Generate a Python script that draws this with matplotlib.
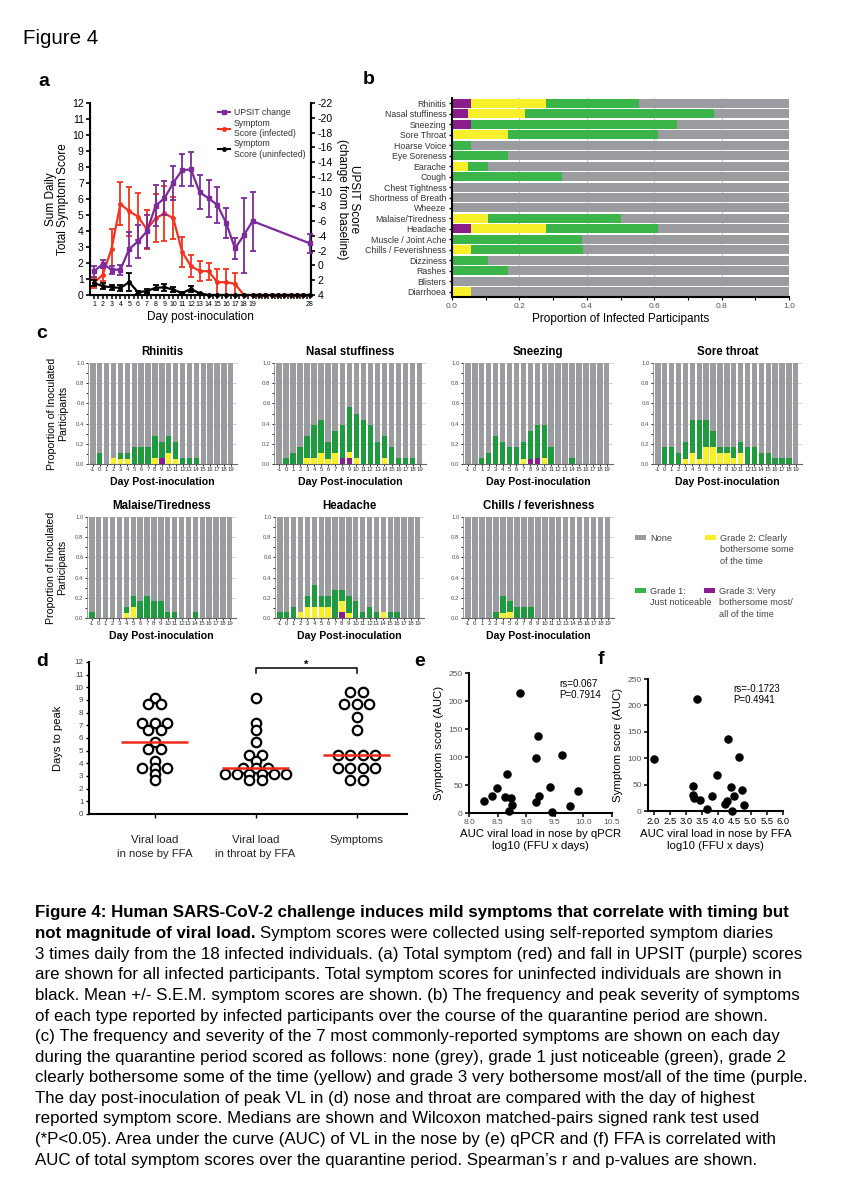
import numpy as np
import matplotlib
matplotlib.use('Agg')
import matplotlib.pyplot as plt
from matplotlib.lines import Line2D
from matplotlib.patches import Rectangle

plt.rcParams['font.family'] = ['Liberation Sans', 'DejaVu Sans']
plt.rcParams['axes.unicode_minus'] = False

W, H = 849, 1200
fig = plt.figure(figsize=(W / 100, H / 100), dpi=100)


def add_ax(x0, y0, x1, y1):
    return fig.add_axes([x0 / W, 1 - y1 / H, (x1 - x0) / W, (y1 - y0) / H])


PURPLE = '#8a1c8c'
YELLOW = '#f6ef2a'
GREEN_B = '#3bb54a'
GREEN_C = '#1f9a3e'
GRAY = '#9b9c9f'
RED = '#f5331f'
UPS = '#7d2b9a'

# ---------------- data: panel a ----------------
days_sym = list(range(1, 29))
red_mean = [0.75, 1.27, 2.9, 5.7, 5.23, 4.9, 4.1, 4.8, 5.1, 4.8, 2.7, 1.8, 1.5, 1.48,
            0.8, 0.8, 0.7, 0, 0, 0, 0, 0, 0, 0, 0, 0, 0, 0]
red_sem = [0.3, 0.4, 1.25, 1.35, 1.55, 1.45, 1.2, 1.5, 1.7, 1.3, 0.95, 0.7, 0.6, 0.55,
           0.8, 0.8, 0.7, 0, 0, 0, 0, 0, 0, 0, 0, 0, 0, 0]
blk_mean = [0.75, 0.55, 0.48, 0.45, 0.8, 0.17, 0.25, 0.45, 0.48, 0.33, 0.12, 0.38, 0.1,
            0, 0, 0, 0, 0, 0, 0, 0, 0, 0, 0, 0, 0, 0, 0]
blk_sem = [0.2, 0.2, 0.15, 0.2, 0.55, 0.1, 0.1, 0.15, 0.2, 0.15, 0.05, 0.2, 0.05,
           0, 0, 0, 0, 0, 0, 0, 0, 0, 0, 0, 0, 0, 0, 0]
days_upsit = [1, 2, 3, 4, 5, 6, 7, 8, 9, 10, 11, 12, 13, 14, 15, 16, 17, 18, 19, 28]
upsit_mean = [0.8, -0.2, 0.57, 0.57, -2.23, -3.27, -4.6, -8.1, -9.1, -11.2, -12.9, -13.0,
              -9.9, -9.1, -8.2, -5.75, -2.3, -4.1, -6.0, -3.0]
upsit_sem = [0.7, 0.6, 0.55, 0.7, 2.3, 2.2, 2.3, 2.8, 2.3, 2.3, 2.2, 2.3, 2.3, 2.5, 2.4,
             2.0, 1.4, 5.1, 4.0, 1.3]
day_labels_a = [1, 2, 3, 4, 5, 6, 7, 8, 9, 10, 11, 12, 13, 14, 15, 16, 17, 18, 19, 28]

# ---------------- data: panel b ----------------
symptoms_b = ['Rhinitis', 'Nasal stuffiness', 'Sneezing', 'Sore Throat', 'Hoarse Voice',
              'Eye Soreness', 'Earache', 'Cough', 'Chest Tightness', 'Shortness of Breath',
              'Wheeze', 'Malaise/Tiredness', 'Headache', 'Muscle / Joint Ache',
              'Chills / Feverishness', 'Dizziness', 'Rashes', 'Blisters', 'Diarrhoea']
b_grade3 = [0.056, 0.047, 0.056, 0, 0, 0, 0, 0, 0, 0, 0, 0, 0.056, 0, 0, 0, 0, 0, 0]
b_grade2 = [0.222, 0.171, 0, 0.167, 0, 0, 0.047, 0, 0, 0, 0, 0.106, 0.222, 0, 0.056, 0, 0, 0, 0.056]
b_grade1 = [0.278, 0.560, 0.611, 0.444, 0.056, 0.167, 0.059, 0.327, 0, 0, 0, 0.394, 0.333,
            0.387, 0.333, 0.106, 0.167, 0, 0]

# ---------------- data: panel c ----------------
days_c = list(range(-1, 20))
c_titles = ['Rhinitis', 'Nasal stuffiness', 'Sneezing', 'Sore throat',
            'Malaise/Tiredness', 'Headache', 'Chills / feverishness']
# grade 3 (purple), grade 2 (yellow), grade 1 (green) proportions, days -1..19
rhin_g3 = [0, 0, 0, 0, 0, 0, 0, 0, 0, 0, 0.06, 0, 0, 0, 0, 0, 0, 0, 0, 0, 0]
rhin_g2 = [0, 0, 0, 0.06, 0.05, 0.05, 0, 0, 0, 0.06, 0, 0.11, 0.05, 0, 0, 0, 0, 0, 0, 0, 0]
rhin_g1 = [0, 0.11, 0, 0, 0.06, 0.06, 0.17, 0.17, 0.17, 0.22, 0.16, 0.17, 0.17, 0.06, 0.06, 0.06, 0, 0, 0, 0, 0]

nas_g3 = [0, 0, 0, 0, 0, 0, 0, 0, 0, 0.06, 0.06, 0, 0, 0, 0, 0, 0, 0, 0, 0, 0]
nas_g2 = [0, 0, 0, 0, 0.06, 0.06, 0.11, 0.05, 0.11, 0, 0.06, 0.06, 0, 0, 0, 0.06, 0, 0, 0, 0, 0]
nas_g1 = [0, 0.06, 0.11, 0.17, 0.22, 0.33, 0.33, 0.17, 0.22, 0.33, 0.44, 0.44, 0.44, 0.39, 0.22, 0.22, 0.17, 0.06, 0.06, 0.06, 0]

snz_g3 = [0, 0, 0, 0, 0, 0, 0, 0, 0, 0.05, 0.06, 0, 0, 0, 0, 0, 0, 0, 0, 0, 0]
snz_g2 = [0, 0, 0, 0, 0, 0, 0, 0, 0.05, 0, 0, 0.06, 0, 0, 0, 0, 0, 0, 0, 0, 0]
snz_g1 = [0, 0, 0.06, 0.11, 0.28, 0.22, 0.17, 0.17, 0.17, 0.28, 0.33, 0.33, 0.17, 0, 0, 0.06, 0, 0, 0, 0, 0]

sor_g3 = [0] * 21
sor_g2 = [0, 0, 0, 0, 0.05, 0.11, 0.05, 0.17, 0.17, 0.11, 0.11, 0.06, 0.11, 0, 0, 0, 0, 0, 0, 0, 0]
sor_g1 = [0, 0.17, 0.17, 0.11, 0.17, 0.33, 0.39, 0.27, 0.16, 0.06, 0.06, 0.11, 0.11, 0.17, 0.17, 0.11, 0.11, 0.06, 0.06, 0.06, 0]

mal_g3 = [0] * 21
mal_g2 = [0, 0, 0, 0, 0, 0.05, 0.11, 0, 0, 0, 0, 0, 0, 0, 0, 0, 0, 0, 0, 0, 0]
mal_g1 = [0.06, 0, 0, 0, 0, 0.06, 0.11, 0.17, 0.22, 0.17, 0.17, 0.06, 0.06, 0, 0, 0.06, 0, 0, 0, 0, 0]

hea_g3 = [0, 0, 0, 0, 0, 0, 0, 0, 0, 0.06, 0, 0, 0, 0, 0, 0, 0, 0, 0, 0, 0]
hea_g2 = [0, 0, 0, 0.06, 0.11, 0.11, 0.11, 0.11, 0, 0.11, 0.05, 0, 0, 0, 0, 0.06, 0, 0, 0, 0, 0]
hea_g1 = [0.06, 0.06, 0.11, 0, 0.11, 0.22, 0.11, 0.11, 0.28, 0.11, 0.17, 0.17, 0.06, 0.11, 0.06, 0, 0.06, 0.06, 0, 0, 0]

chi_g3 = [0] * 21
chi_g2 = [0, 0, 0, 0, 0, 0.05, 0.06, 0, 0, 0, 0, 0, 0, 0, 0, 0, 0, 0, 0, 0, 0]
chi_g1 = [0, 0, 0, 0, 0.06, 0.17, 0.11, 0.11, 0.11, 0.11, 0, 0, 0, 0, 0, 0, 0, 0, 0, 0, 0]

# ---------------- data: panel d ----------------
d_groups = ['Viral load\nin nose by FFA', 'Viral load\nin throat by FFA', 'Symptoms']
d_nose = [9.15, 8.65, 8.65, 7.15, 7.15, 7.15, 6.65, 6.65, 5.65, 5.15, 5.15, 4.15,
          3.65, 3.65, 3.65, 3.15, 2.65]
d_throat = [9.15, 7.15, 6.65, 5.65, 4.65, 4.65, 4.15, 3.65, 3.65, 3.65, 3.15, 3.15,
            3.15, 3.15, 3.15, 3.15, 2.65, 2.65]
d_symptoms = [9.65, 9.65, 8.65, 8.65, 8.65, 7.65, 6.65, 4.65, 4.65, 4.65, 4.65,
              3.65, 3.65, 3.65, 3.65, 2.65, 2.65]

# ---------------- data: panels e, f ----------------
e_x = [8.26, 8.40, 8.49, 8.66, 8.63, 8.73, 8.70, 8.76, 8.89, 9.20, 9.17, 9.22, 9.17,
       9.42, 9.45, 9.63, 9.76, 9.91]
e_y = [21, 31, 45, 69, 29, 27, 4, 14, 214, 138, 99, 30, 19, 46, 1, 103, 12, 40]
f_x = [2.0, 3.21, 3.21, 3.26, 3.45, 3.33, 3.65, 3.82, 3.95, 4.21, 4.26, 4.31, 4.40,
       4.41, 4.50, 4.63, 4.72, 4.81]
f_y = [99, 47, 30, 25, 20, 213, 3, 29, 68, 13, 18, 137, 45, 0, 29, 102, 39, 11]

# =============== Figure title ===============
fig.text(23 / W, 1 - 38 / H, 'Figure 4', fontsize=14.8, va='center', ha='left')

panel_labels = [('a', 38, 82), ('b', 363, 80), ('c', 36, 333), ('d', 36, 661),
                ('e', 414, 662), ('f', 598, 660)]
for lab, px, py in panel_labels:
    fig.text(px / W, 1 - py / H, lab, fontsize=14, fontweight='bold', va='center', ha='left')

# =============== Panel a ===============
ax = add_ax(90, 103, 311, 295)


def fwd(x):
    x = np.asarray(x, dtype=float)
    return np.where(x <= 19, x, 19 + (x - 19) * 0.72)


def inv(y):
    y = np.asarray(y, dtype=float)
    return np.where(y <= 19, y, 19 + (y - 19) / 0.72)


ax.set_xscale('function', functions=(fwd, inv))
ax.set_xlim(0.55, 28.2)
ax.set_ylim(0, 12)
ax.errorbar(days_sym, red_mean, yerr=red_sem, color=RED, lw=1.6, marker='o', ms=2.5,
            capsize=2, elinewidth=1.3, capthick=1.3, clip_on=False, zorder=3)
ax.errorbar(days_sym, blk_mean, yerr=blk_sem, color='black', lw=1.6, marker='o', ms=2.5,
            capsize=2, elinewidth=1.3, capthick=1.3, clip_on=False, zorder=4)
ax.set_yticks(range(0, 13))
ax.set_xticks(day_labels_a)
ax.set_xticklabels([str(d) for d in day_labels_a], fontsize=5)
ax.set_xticks(np.arange(1, 28.01, 0.5), minor=True)
ax.tick_params(axis='x', which='both', length=3, width=1.1, pad=1.5)
ax.tick_params(axis='y', labelsize=7.5, length=3, width=1.2, pad=1.5)
for s in ['left', 'bottom', 'right']:
    ax.spines[s].set_linewidth(1.5)
ax.spines['top'].set_visible(False)
ax.set_ylabel('Sum Daily\nTotal Symptom Score', fontsize=8.5, labelpad=2, linespacing=1.0)
ax.set_xlabel('Day post-inoculation', fontsize=8.5, labelpad=2)

ax2 = ax.twinx()
ax2.set_ylim(4, -22)
ax2.errorbar(days_upsit, upsit_mean, yerr=upsit_sem, color=UPS, lw=1.6, marker='s', ms=2.2,
             capsize=2, elinewidth=1.3, capthick=1.3, clip_on=False, zorder=3)
ax2.set_yticks(range(4, -23, -2))
ax2.tick_params(axis='y', labelsize=7.5, length=3, width=1.2, pad=1.5)
ax2.spines['top'].set_visible(False)
ax2.spines['right'].set_linewidth(1.5)
ax2.set_ylabel('UPSIT Score\n(change from baseline)', fontsize=8.5, rotation=270,
               labelpad=20, linespacing=1.0)
handles = [Line2D([], [], color=UPS, marker='s', ms=2.5, lw=1.5),
           Line2D([], [], color=RED, marker='o', ms=2.5, lw=1.5),
           Line2D([], [], color='black', marker='o', ms=2.5, lw=1.5)]
ax2.legend(handles, ['UPSIT change', 'Symptom\nScore (infected)', 'Symptom\nScore (uninfected)'],
           loc='upper right', bbox_to_anchor=(1.0, 1.0), fontsize=6.3, frameon=False,
           handlelength=1.4, labelspacing=0.15, handletextpad=0.5, borderaxespad=0.2,
           labelcolor='#333333')

# =============== Panel b ===============
axb = add_ax(452, 98, 789, 297)
yb = np.arange(len(symptoms_b))
left = np.zeros(len(symptoms_b))
for vals, col in [(b_grade3, PURPLE), (b_grade2, YELLOW), (b_grade1, GREEN_B)]:
    vals = np.array(vals)
    axb.barh(yb, vals, left=left, color=col, height=0.86, edgecolor='none', zorder=2)
    left = left + vals
axb.barh(yb, 1 - left, left=left, color=GRAY, height=0.86, edgecolor='none', zorder=2)
axb.set_ylim(len(symptoms_b) - 0.5, -0.5)
axb.set_xlim(0, 1.0)
axb.set_yticks(yb)
axb.set_yticklabels(symptoms_b, fontsize=6.3, color='#333333')
axb.set_xticks(np.arange(0, 1.01, 0.2))
axb.set_xticklabels(['0.0', '0.2', '0.4', '0.6', '0.8', '1.0'], fontsize=6, color='#555555')
axb.set_xticks(np.arange(0.1, 1.0, 0.2), minor=True)
axb.grid(axis='x', which='major', color='#c8c8c8', lw=0.8, zorder=0)
axb.tick_params(axis='y', length=2.5, width=1.0, pad=1.5)
axb.tick_params(axis='x', which='both', length=2.5, width=0.8, pad=2)
axb.spines['top'].set_visible(False)
axb.spines['right'].set_visible(False)
axb.spines['left'].set_linewidth(1.5)
axb.spines['bottom'].set_linewidth(1.5)
axb.set_xlabel('Proportion of Infected Participants', fontsize=8.5, labelpad=2)

# =============== Panel c ===============
c_data = [(rhin_g3, rhin_g2, rhin_g1), (nas_g3, nas_g2, nas_g1), (snz_g3, snz_g2, snz_g1),
          (sor_g3, sor_g2, sor_g1), (mal_g3, mal_g2, mal_g1), (hea_g3, hea_g2, hea_g1),
          (chi_g3, chi_g2, chi_g1)]
c_boxes = [(88, 363, 237, 464), (274, 363, 426, 464), (463, 363, 613, 464), (653, 363, 802, 464),
           (87, 517, 236, 618), (275, 517, 424, 618), (463, 517, 614, 618)]
for i, (title, (g3, g2, g1), box) in enumerate(zip(c_titles, c_data, c_boxes)):
    axc = add_ax(*box)
    bottom = np.zeros(len(days_c))
    for vals, col in [(g3, PURPLE), (g2, YELLOW), (g1, GREEN_C)]:
        vals = np.array(vals)
        axc.bar(days_c, vals, bottom=bottom, width=0.78, color=col, edgecolor='none', zorder=2)
        bottom = bottom + vals
    axc.bar(days_c, 1 - bottom, bottom=bottom, width=0.78, color=GRAY, edgecolor='none', zorder=2)
    axc.set_xlim(-1.7, 19.9)
    axc.set_ylim(0, 1.0)
    axc.set_xticks(days_c)
    axc.set_xticklabels([str(d) for d in days_c], fontsize=4.3, color='#333333')
    axc.set_yticks(np.arange(0, 1.01, 0.2))
    axc.set_yticklabels(['0.0', '0.2', '0.4', '0.6', '0.8', '1.0'], fontsize=4.3, color='#555555')
    axc.set_yticks(np.arange(0.1, 1.0, 0.2), minor=True)
    axc.grid(axis='y', which='major', color='#cfcfcf', lw=0.6, zorder=0)
    axc.tick_params(axis='both', which='both', length=1.5, width=0.6, pad=1)
    axc.spines['top'].set_visible(False)
    axc.spines['right'].set_visible(False)
    axc.spines['left'].set_color('#888888')
    axc.spines['left'].set_linewidth(0.6)
    axc.spines['bottom'].set_color('#666666')
    axc.spines['bottom'].set_linewidth(0.8)
    axc.set_title(title, fontsize=8.3, fontweight='bold', pad=6)
    axc.set_xlabel('Day Post-inoculation', fontsize=7.6, fontweight='bold', labelpad=3)
    if i in (0, 4):
        axc.set_ylabel('Proportion of Inoculated\nParticipants', fontsize=7.6, labelpad=6,
                       linespacing=1.1)

# legend for panel c
leg_items = [(GRAY, 'None', 635, 535), (YELLOW, 'Grade 2: Clearly\nbothersome some\nof the time', 705, 535),
             (GREEN_B, 'Grade 1:\nJust noticeable', 635, 588), (PURPLE, 'Grade 3: Very\nbothersome most/\nall of the time', 704, 588)]
for col, txt, px, py in leg_items:
    fig.patches.append(Rectangle((px / W, 1 - (py + 5) / H), 11 / W, 5 / H, transform=fig.transFigure,
                                 facecolor=col, edgecolor='none'))
    fig.text((px + 15) / W, 1 - (py - 1) / H, txt, fontsize=6.6, color='#444444', va='top',
             ha='left', linespacing=1.35)

# =============== Panel d ===============
axd = add_ax(89, 662, 407, 814)
for i, vals in enumerate([d_nose, d_throat, d_symptoms]):
    vals = np.array(vals)
    xs = np.zeros(len(vals))
    for v in np.unique(vals):
        idx = np.where(vals == v)[0]
        n = len(idx)
        xs[idx] = i + (np.arange(n) - (n - 1) / 2) * 0.122
    axd.scatter(xs, vals, s=46, facecolor='white', edgecolor='black', linewidth=1.6,
                zorder=3, clip_on=False)
    med = np.median(vals)
    axd.hlines(med, i - 0.33, i + 0.33, color='#ee2a1b', lw=1.8, zorder=4)
axd.set_xlim(-0.65, 2.5)
axd.set_ylim(0, 12)
axd.set_yticks(range(0, 13))
axd.tick_params(axis='y', labelsize=5.8, labelcolor='#444444', length=2.5, width=1, pad=1.5)
axd.set_xticks([0, 1, 2])
axd.set_xticklabels(d_groups, fontsize=8.2, color='#222222', linespacing=1.5)
axd.tick_params(axis='x', length=3, width=1, pad=12)
axd.spines['top'].set_visible(False)
axd.spines['right'].set_visible(False)
axd.spines['left'].set_linewidth(1.5)
axd.spines['bottom'].set_linewidth(1.5)
axd.set_ylabel('Days to peak', fontsize=8, labelpad=8)
axd.plot([1, 1, 2, 2], [11.15, 11.5, 11.5, 11.15], color='black', lw=1.1, clip_on=False)
axd.text(1.5, 11.75, '*', ha='center', va='center', fontsize=8, fontweight='bold')

# =============== Panel e ===============
axe = add_ax(469, 673, 612, 813)
axe.scatter(e_x, e_y, s=26, color='black', zorder=3, clip_on=False)
axe.set_xlim(8.0, 10.5)
axe.set_ylim(0, 250)
axe.set_xticks(np.arange(8.0, 10.51, 0.5))
axe.set_xticklabels(['8.0', '8.5', '9.0', '9.5', '10.0', '10.5'], fontsize=6, color='#555555')
axe.set_yticks(range(0, 251, 50))
axe.tick_params(axis='y', labelsize=6, labelcolor='#555555', length=3, width=1.1, pad=1.5)
axe.tick_params(axis='x', length=3, width=1.1, pad=1.5)
axe.spines['top'].set_visible(False)
axe.spines['right'].set_visible(False)
axe.spines['left'].set_linewidth(1.5)
axe.spines['bottom'].set_linewidth(1.5)
axe.set_ylabel('Symptom score (AUC)', fontsize=8.2, labelpad=3)
axe.set_xlabel('AUC viral load in nose by qPCR\nlog10 (FFU x days)', fontsize=8.2, labelpad=2,
               linespacing=1.3)
axe.text(0.63, 0.96, 'rs=0.067\nP=0.7914', transform=axe.transAxes, fontsize=7, va='top',
         ha='left', linespacing=1.15)

# =============== Panel f ===============
axf = add_ax(648, 679, 783, 811)
axf.scatter(f_x, f_y, s=26, color='black', zorder=3, clip_on=False)
axf.set_xlim(1.83, 6.0)
axf.set_ylim(0, 250)
axf.set_xticks(np.arange(2.0, 6.01, 0.5))
axf.set_xticklabels(['2.0', '2.5', '3.0', '3.5', '4.0', '4.5', '5.0', '5.5', '6.0'], fontsize=6.8)
axf.set_yticks(range(0, 251, 50))
axf.tick_params(axis='y', labelsize=6, labelcolor='#555555', length=3, width=1.1, pad=1.5)
axf.tick_params(axis='x', length=3, width=1.1, pad=1.5)
axf.spines['top'].set_visible(False)
axf.spines['right'].set_visible(False)
axf.spines['left'].set_linewidth(1.5)
axf.spines['bottom'].set_linewidth(1.5)
axf.set_ylabel('Symptom score (AUC)', fontsize=8.2, labelpad=3)
axf.set_xlabel('AUC viral load in nose by FFA\nlog10 (FFU x days)', fontsize=8.2, labelpad=2,
               linespacing=1.3)
axf.text(0.63, 0.96, 'rs=-0.1723\nP=0.4941', transform=axf.transAxes, fontsize=7, va='top',
         ha='left', linespacing=1.15)

# =============== Caption ===============
FS = 12.2
cap_lines = [
    "3 times daily from the 18 infected individuals. (a) Total symptom (red) and fall in UPSIT (purple) scores",
    "are shown for all infected participants. Total symptom scores for uninfected individuals are shown in",
    "black. Mean +/- S.E.M. symptom scores are shown. (b) The frequency and peak severity of symptoms",
    "of each type reported by infected participants over the course of the quarantine period are shown.",
    "(c) The frequency and severity of the 7 most commonly-reported symptoms are shown on each day",
    "during the quarantine period scored as follows: none (grey), grade 1 just noticeable (green), grade 2",
    "clearly bothersome some of the time (yellow) and grade 3 very bothersome most/all of the time (purple.",
    "The day post-inoculation of peak VL in (d) nose and throat are compared with the day of highest",
    "reported symptom score. Medians are shown and Wilcoxon matched-pairs signed rank test used",
    "(*P<0.05). Area under the curve (AUC) of VL in the nose by (e) qPCR and (f) FFA is correlated with",
    "AUC of total symptom scores over the quarantine period. Spearman\u2019s r and p-values are shown.",
]
y0 = 913
dy = 20.6
x0 = 35
fig.text(x0 / W, 1 - y0 / H,
         'Figure 4: Human SARS-CoV-2 challenge induces mild symptoms that correlate with timing but',
         fontsize=FS, fontweight='bold', va='center', ha='left')
tb = fig.text(x0 / W, 1 - (y0 + dy) / H, 'not magnitude of viral load.', fontsize=FS,
              fontweight='bold', va='center', ha='left')
renderer = fig.canvas.get_renderer()
bb = tb.get_window_extent(renderer)
fig.text((bb.x1 + 4) / W, 1 - (y0 + dy) / H,
         'Symptom scores were collected using self-reported symptom diaries',
         fontsize=FS, va='center', ha='left')
for k, line in enumerate(cap_lines):
    fig.text(x0 / W, 1 - (y0 + dy * (k + 2)) / H, line, fontsize=FS, va='center', ha='left')

fig.savefig('out.png', dpi=100)
